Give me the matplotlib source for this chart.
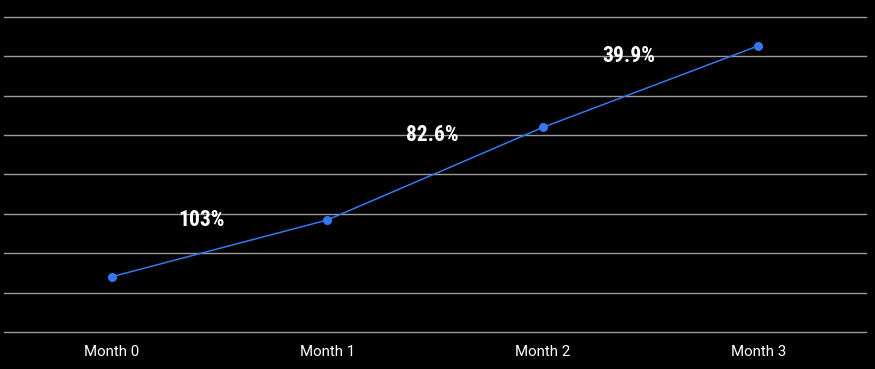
import matplotlib.pyplot as plt

months = ["Month 0", "Month 1", "Month 2", "Month 3"]
values = [1.40, 2.84, 5.19, 7.26]
growth_labels = ["103%", "82.6%", "39.9%"]

BG = "#000000"
GRID = "#9a9a9a"
LINE = "#3478f0"

fig = plt.figure(figsize=(8.75, 3.69), dpi=100, facecolor=BG)
ax = fig.add_axes([0.0046, 0.0984, 0.9851, 0.8563])
ax.set_facecolor(BG)

x = list(range(len(months)))
ax.plot(x, values, color=LINE, linewidth=1.1, marker="o", markersize=5.5, zorder=3)

ax.set_xlim(-0.5, 3.5)
ax.set_ylim(-0.02, 8)
ax.set_yticks(range(0, 9))
ax.yaxis.grid(True, color=GRID, linewidth=1.0)
for gl in ax.get_ygridlines():
    gl.set_clip_on(False)
ax.set_axisbelow(True)
ax.tick_params(axis="y", length=0, labelleft=False)
ax.tick_params(axis="x", length=0, pad=9)
ax.set_xticks(x)
ax.set_xticklabels(months, color="white", fontsize=10.8, family="Roboto")
for s in ax.spines.values():
    s.set_visible(False)

# growth labels above each segment
offsets = [(-18, 28), (-3, 39), (-22, 31)]
label_fonts = ["Roboto Condensed", "DejaVu Sans Condensed", "Liberation Sans Narrow", "Roboto"]
for i, lab in enumerate(growth_labels):
    mx = (x[i] + x[i + 1]) / 2
    my = (values[i] + values[i + 1]) / 2
    ax.annotate(lab, (mx, my), xytext=offsets[i], textcoords="offset pixels",
                ha="center", va="center", color="white", fontsize=15.5,
                fontweight="bold", family=label_fonts)

fig.savefig("out.png", dpi=100, facecolor=BG)
